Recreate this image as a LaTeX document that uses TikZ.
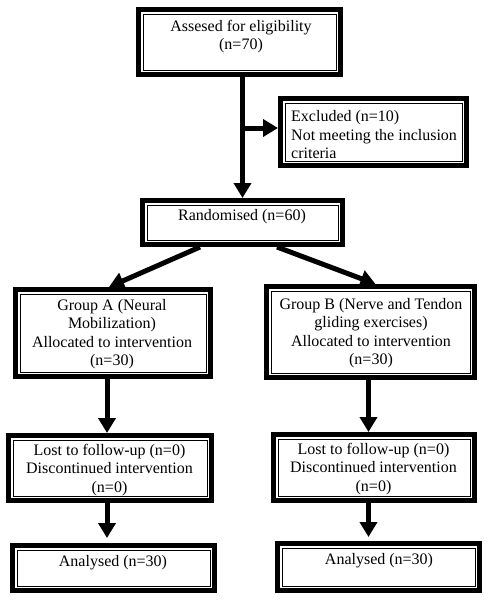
\documentclass[tikz,border=0pt]{standalone}
\usepackage{fontspec}
\setmainfont{Liberation Serif}
\usetikzlibrary{arrows.meta}
\begin{document}
\begin{tikzpicture}[x=1pt,y=-1pt,
  frame/.style 2 args={draw, line width=5pt, inner sep=0pt, outer sep=2.5pt,
    minimum width=#1pt-5pt, minimum height=#2pt-5pt,
    path picture={\draw[line width=1pt]
      ([xshift=4.5pt,yshift=-4.5pt]path picture bounding box.north west) rectangle
      ([xshift=-4.5pt,yshift=4.5pt]path picture bounding box.south east);}},
  txt/.style={inner sep=0pt, align=center, font=\fontsize{16}{18.5}\selectfont},
  arr/.style={line width=5pt, -{Triangle[width=17pt,length=15pt]}}]
\useasboundingbox (0,0) rectangle (490,600);
% boxes
\node[frame={207}{70}] (assess) at (239.5,42) {};
\node[txt] (tassess) at (241,36.5) {Assesed for eligibility\\(n=70)};
\node[frame={191}{72}] (excl) at (373.5,132) {};
\node[txt, align=left, anchor=west] (texcl) at (291,135) {Excluded (n=10)\\Not meeting the inclusion\\criteria};
\node[frame={205}{49}] (rand) at (242.5,222.5) {};
\node[txt] (trand) at (242,217) {Randomised (n=60)};
\node[frame={200}{92}] (gA) at (113,333) {};
\node[txt] (tgA) at (112,334) {Group A (Neural\\Mobilization)\\Allocated to intervention\\(n=30)};
\node[frame={213}{96}] (gB) at (370.5,332) {};
\node[txt] (tgB) at (371,333) {Group B (Nerve and Tendon\\gliding exercises)\\Allocated to intervention\\(n=30)};
\node[frame={208}{70}] (lostA) at (110,468) {};
\node[txt] (tlostA) at (109.5,470) {Lost to follow-up (n=0)\\Discontinued intervention\\(n=0)};
\node[frame={206}{71}] (lostB) at (374,467.5) {};
\node[txt] (tlostB) at (373.5,469) {Lost to follow-up (n=0)\\Discontinued intervention\\(n=0)};
\node[frame={207}{50}] (anA) at (113.5,568) {};
\node[txt] (tanA) at (113,562.5) {Analysed (n=30)};
\node[frame={207}{52}] (anB) at (378.5,567) {};
\node[txt] (tanB) at (379,560.5) {Analysed (n=30)};
% connectors
\coordinate (spine) at (242.5,128);
\draw[arr] (rand.north |- assess.south) -- (rand.north);
\draw[arr] (spine) -- (spine -| excl.west);
\draw[arr] ([xshift=-42.5pt]rand.south) -- ([xshift=-4pt]gA.north);
\draw[arr] ([xshift=34.5pt]rand.south) -- ([xshift=5pt]gB.north);
\draw[arr] ([xshift=-6pt]gA.south) -- ([xshift=-3pt]lostA.north);
\draw[arr, shorten >=5pt] ([xshift=-3pt]lostA.south) -- ([xshift=-6.5pt]anA.north);
\draw[arr] ([xshift=-2pt]gB.south) -- ([xshift=-5.5pt]lostB.north);
\draw[arr, shorten >=4pt] ([xshift=-5.5pt]lostB.south) -- ([xshift=-10pt]anB.north);
\end{tikzpicture}
\end{document}
